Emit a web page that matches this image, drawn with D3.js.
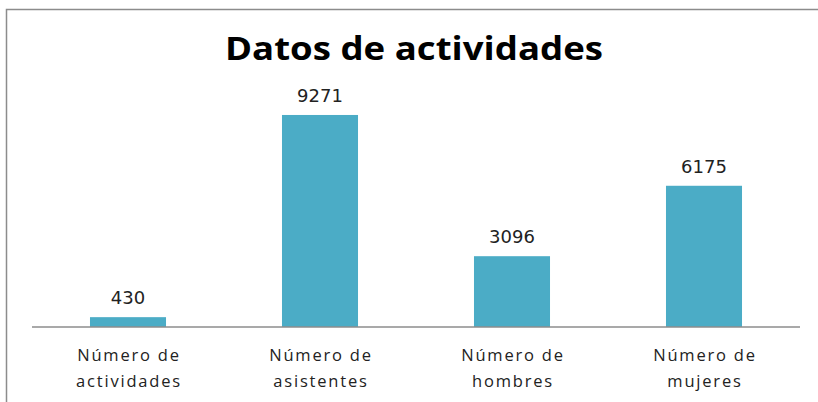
<!DOCTYPE html>
<html><head><meta charset="utf-8">
<script src="https://cdn.jsdelivr.net/npm/d3@7"></script>
<style>body{margin:0;background:#fff;} svg{display:block;}</style>
</head><body>
<script>
const categories = [["Número de","actividades"],["Número de","asistentes"],["Número de","hombres"],["Número de","mujeres"]];
const values = [430, 9271, 3096, 6175];
const title = "Datos de actividades";

const W = 818, H = 402;
const svg = d3.select("body").append("svg").attr("width", W).attr("height", H);

// frame
svg.append("path").attr("d", "M6.5,402 L6.5,9.5 L818,9.5").attr("fill","none").attr("stroke","#8c8c8c").attr("stroke-width",1.5);

const x = d3.scaleBand().domain(d3.range(categories.length)).range([32, 800]).paddingInner(0.604).paddingOuter(0.302);
const y = d3.scaleLinear().domain([0, 10000]).range([327, 98.3]);

svg.append("text").attr("x", 414).attr("y", 60).attr("text-anchor","middle")
  .attr("font-family","Open Sans").attr("font-weight","bold").attr("font-size",32).attr("fill","#000")
  .attr("textLength", 378).attr("lengthAdjust","spacingAndGlyphs")
  .text(title);

svg.selectAll("rect.bar").data(values).join("rect").attr("class","bar")
  .attr("x",(d,i)=>x(i)).attr("width",x.bandwidth())
  .attr("y",d=>y(d)).attr("height",d=>y(0)-y(d)).attr("fill","#4bacc6");

svg.append("line").attr("x1",32).attr("x2",800).attr("y1",327).attr("y2",327).attr("stroke","#8c8c8c").attr("stroke-width",1.5);

svg.selectAll("text.val").data(values).join("text").attr("class","val")
  .attr("x",(d,i)=>x(i)+x.bandwidth()/2).attr("y",d=>y(d)-13)
  .attr("text-anchor","middle").attr("font-family","DejaVu Sans").attr("font-size",18).attr("fill","#222")
  .text(d=>d);

const cat = svg.selectAll("text.cat").data(categories).join("text").attr("class","cat")
  .attr("text-anchor","middle").attr("font-family","Open Sans").attr("font-size",16.5).attr("fill","#222")
  .attr("letter-spacing", 1.8);
cat.each(function(d,i){
  const t = d3.select(this);
  d.forEach((line,k)=>{
    t.append("tspan").attr("x", x(i)+x.bandwidth()/2 + 1).attr("y", 361 + k*26).text(line);
  });
});
</script>
</body></html>
